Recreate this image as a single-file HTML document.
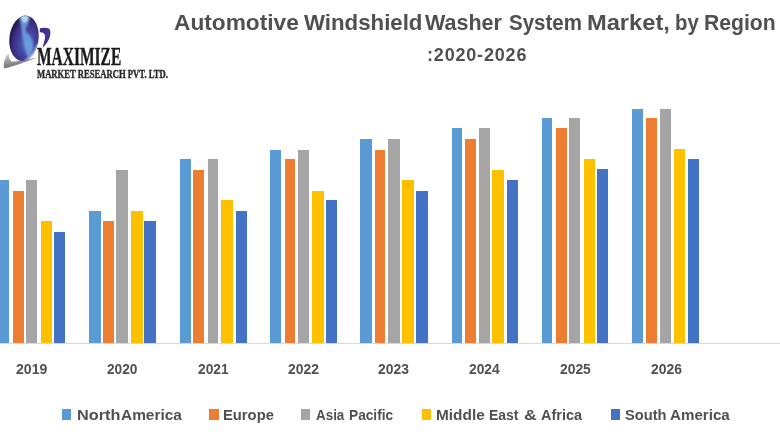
<!DOCTYPE html>
<html><head><meta charset="utf-8">
<style>
html,body{margin:0;padding:0;background:#fff;}
body{width:780px;height:440px;position:relative;overflow:hidden;font-family:"Liberation Sans",sans-serif;}
.b{position:absolute;width:11.3px;}
.axis{position:absolute;left:0;top:343px;width:780px;height:1px;background:#d9d9d9;}
.t1,.t2,.lg,.yl,.logo1,.logo2{position:absolute;white-space:nowrap;transform-origin:0 0;}
.yl{font-weight:bold;font-size:14.5px;color:#505050;line-height:18px;}
.t1{font-weight:bold;font-size:21.5px;color:#505050;line-height:26px;}
.t2{font-weight:bold;font-size:17.5px;color:#505050;line-height:20px;margin-top:0.8px;letter-spacing:0.8px;}
.lg{font-weight:bold;font-size:14.5px;color:#505050;line-height:20px;}
.sq{position:absolute;top:409.3px;width:9.3px;height:10.3px;}
.logo1{font-family:"Liberation Serif",serif;font-weight:bold;font-size:24.5px;color:#1a1a1a;line-height:26px;-webkit-text-stroke:0.35px #1a1a1a;}
.logo2{font-family:"Liberation Serif",serif;font-weight:bold;font-size:13px;color:#2a2a2a;line-height:14px;-webkit-text-stroke:0.45px #2a2a2a;}
</style></head><body>
<svg style="position:absolute;left:0;top:0;" width="60" height="75" viewBox="0 0 60 75">
  <defs>
    <radialGradient id="gg" cx="0.62" cy="0.6" r="0.6">
      <stop offset="0" stop-color="#4a78c6"/>
      <stop offset="0.45" stop-color="#4544a0"/>
      <stop offset="0.8" stop-color="#3b2c80"/>
      <stop offset="1" stop-color="#261a54"/>
    </radialGradient>
    <linearGradient id="sw" x1="0" y1="0" x2="0.3" y2="1">
      <stop offset="0" stop-color="#d4d4d4"/>
      <stop offset="1" stop-color="#6a6a6a"/>
    </linearGradient>
    <linearGradient id="pw" x1="0" y1="0" x2="1" y2="1">
      <stop offset="0" stop-color="#3a2a7a"/>
      <stop offset="0.5" stop-color="#48349a"/>
      <stop offset="1" stop-color="#30226a"/>
    </linearGradient>
    <filter id="bl" x="-0.5" y="-0.5" width="2" height="2"><feGaussianBlur stdDeviation="1.1"/></filter>
    <clipPath id="gc"><ellipse cx="24" cy="38.3" rx="14.6" ry="22.8" transform="rotate(7 24 38.3)"/></clipPath>
  </defs>
  <path d="M9 53 C 5 57, 3 63, 4 68.5 C 12 67, 25 62, 37.5 57.5 C 25 59.5, 15 62, 11.5 61.5 C 9 59.5, 8.3 56, 9 53 Z" fill="url(#sw)"/>
  <ellipse cx="24" cy="38.3" rx="14.6" ry="22.8" transform="rotate(7 24 38.3)" fill="url(#gg)"/>
  <g clip-path="url(#gc)">
    <g filter="url(#bl)">
      <path d="M20 16 C 23 14.5, 28 14.5, 30 17 C 29 21, 28 23, 27.5 26 C 25.5 28, 25 30, 27 33 C 31 36, 34 42, 33 49 C 32 53, 30 56, 28 58 C 26 53, 24 47, 23.5 41 C 22 36, 21.5 30, 21 25 C 20 22, 19 18, 20 16 Z" fill="#72a6e0" opacity="0.85"/>
      <path d="M20.5 16 C 23 15, 27 15, 29 17 C 28 20, 27 22, 25 23 C 23 22, 21 19, 20.5 16 Z" fill="#b6d8f4"/>
      <path d="M37 44 C 35 52, 30 58, 23 61 C 31 61.5, 37 56, 39 47 Z" fill="#c6cdf4"/>
    </g>
  </g>
  <path d="M39.8 28.3 C 43 27.6, 46.5 27.4, 49 28.4 C 51 30, 50.8 34.5, 49 39 C 47.6 42, 45.5 45, 42.5 48 C 43.6 43.5, 45 39.5, 45 37 C 45 35, 44.6 34, 43.8 33.4 C 42.6 32.6, 41.2 32.3, 39.8 32.3 Z" fill="url(#pw)"/>
</svg>
<div class="logo1" id="logo1" style="left:36.87px;top:44.20px;transform:scaleX(0.6318)">MAXIMIZE</div>
<div class="logo2" id="logo2" style="left:36.63px;top:67.40px;transform:scaleX(0.6631)">MARKET RESEARCH PVT. LTD.</div>
<div class="t1" id="w1" style="left:173.51px;top:10.10px;transform:scaleX(1.0553)">Automotive</div><div class="t1" id="w2" style="left:303.87px;top:10.10px;transform:scaleX(1.0349)">Windshield</div><div class="t1" id="w3" style="left:425.17px;top:10.10px;transform:scaleX(1.0012)">Washer</div><div class="t1" id="w4" style="left:508.99px;top:10.10px;transform:scaleX(0.9542)">System</div><div class="t1" id="w5" style="left:586.92px;top:10.10px;transform:scaleX(1.1003)">Market,</div><div class="t1" id="w6" style="left:674.83px;top:10.10px;transform:scaleX(0.9450)">by</div><div class="t1" id="w7" style="left:704.21px;top:10.10px;transform:scaleX(0.9842)">Region</div>
<div class="t2" id="t2" style="left:427.34px;top:44.00px;transform:scaleX(1.0277)">:2020-2026</div>
<div class="b" style="left:-2.30px;width:11.30px;top:180.20px;height:162.80px;background:#5B9BD5"></div><div class="b" style="left:13.00px;width:11.10px;top:190.70px;height:152.30px;background:#ED7D31"></div><div class="b" style="left:26.20px;width:10.80px;top:180.20px;height:162.80px;background:#A5A5A5"></div><div class="b" style="left:40.80px;width:11.30px;top:221.00px;height:122.00px;background:#FFC000"></div><div class="b" style="left:54.30px;width:10.80px;top:231.70px;height:111.30px;background:#4472C4"></div><div class="b" style="left:88.85px;width:12.05px;top:210.70px;height:132.30px;background:#5B9BD5"></div><div class="b" style="left:102.80px;width:11.00px;top:221.00px;height:122.00px;background:#ED7D31"></div><div class="b" style="left:116.25px;width:11.85px;top:169.70px;height:173.30px;background:#A5A5A5"></div><div class="b" style="left:130.70px;width:12.00px;top:210.70px;height:132.30px;background:#FFC000"></div><div class="b" style="left:144.30px;width:11.90px;top:221.00px;height:122.00px;background:#4472C4"></div><div class="b" style="left:179.80px;width:11.10px;top:159.00px;height:184.00px;background:#5B9BD5"></div><div class="b" style="left:193.30px;width:10.50px;top:169.50px;height:173.50px;background:#ED7D31"></div><div class="b" style="left:207.70px;width:10.80px;top:159.00px;height:184.00px;background:#A5A5A5"></div><div class="b" style="left:221.20px;width:11.50px;top:200.00px;height:143.00px;background:#FFC000"></div><div class="b" style="left:235.80px;width:10.80px;top:210.70px;height:132.30px;background:#4472C4"></div><div class="b" style="left:269.80px;width:11.10px;top:149.70px;height:193.30px;background:#5B9BD5"></div><div class="b" style="left:284.70px;width:10.60px;top:158.90px;height:184.10px;background:#ED7D31"></div><div class="b" style="left:297.90px;width:10.85px;top:149.80px;height:193.20px;background:#A5A5A5"></div><div class="b" style="left:312.10px;width:11.55px;top:190.80px;height:152.20px;background:#FFC000"></div><div class="b" style="left:325.80px;width:10.80px;top:199.90px;height:143.10px;background:#4472C4"></div><div class="b" style="left:360.00px;width:12.10px;top:138.90px;height:204.10px;background:#5B9BD5"></div><div class="b" style="left:374.70px;width:10.60px;top:149.70px;height:193.30px;background:#ED7D31"></div><div class="b" style="left:387.90px;width:11.80px;top:138.90px;height:204.10px;background:#A5A5A5"></div><div class="b" style="left:402.10px;width:11.70px;top:179.90px;height:163.10px;background:#FFC000"></div><div class="b" style="left:415.80px;width:11.80px;top:190.70px;height:152.30px;background:#4472C4"></div><div class="b" style="left:451.50px;width:10.60px;top:128.40px;height:214.60px;background:#5B9BD5"></div><div class="b" style="left:464.70px;width:10.90px;top:138.70px;height:204.30px;background:#ED7D31"></div><div class="b" style="left:478.80px;width:10.90px;top:128.40px;height:214.60px;background:#A5A5A5"></div><div class="b" style="left:492.30px;width:11.50px;top:169.60px;height:173.40px;background:#FFC000"></div><div class="b" style="left:507.00px;width:10.60px;top:179.90px;height:163.10px;background:#4472C4"></div><div class="b" style="left:541.70px;width:10.40px;top:118.00px;height:225.00px;background:#5B9BD5"></div><div class="b" style="left:556.00px;width:10.70px;top:128.20px;height:214.80px;background:#ED7D31"></div><div class="b" style="left:569.10px;width:10.90px;top:118.00px;height:225.00px;background:#A5A5A5"></div><div class="b" style="left:583.60px;width:11.50px;top:159.00px;height:184.00px;background:#FFC000"></div><div class="b" style="left:597.00px;width:11.10px;top:169.40px;height:173.60px;background:#4472C4"></div><div class="b" style="left:631.90px;width:11.60px;top:108.60px;height:234.40px;background:#5B9BD5"></div><div class="b" style="left:646.00px;width:10.70px;top:117.70px;height:225.30px;background:#ED7D31"></div><div class="b" style="left:659.60px;width:11.60px;top:108.60px;height:234.40px;background:#A5A5A5"></div><div class="b" style="left:673.60px;width:11.80px;top:149.40px;height:193.60px;background:#FFC000"></div><div class="b" style="left:687.50px;width:11.50px;top:158.90px;height:184.10px;background:#4472C4"></div>
<div class="axis"></div>
<div class="yl" id="y2019" style="left:16.40px;top:360.40px;transform:scaleX(0.9688)">2019</div><div class="yl" id="y2020" style="left:106.69px;top:360.40px;transform:scaleX(0.9442)">2020</div><div class="yl" id="y2021" style="left:197.75px;top:360.40px;transform:scaleX(0.9504)">2021</div><div class="yl" id="y2022" style="left:288.17px;top:360.40px;transform:scaleX(0.9588)">2022</div><div class="yl" id="y2023" style="left:378.27px;top:360.40px;transform:scaleX(0.9569)">2023</div><div class="yl" id="y2024" style="left:469.34px;top:360.40px;transform:scaleX(0.9505)">2024</div><div class="yl" id="y2025" style="left:560.23px;top:360.40px;transform:scaleX(0.9557)">2025</div><div class="yl" id="y2026" style="left:651.05px;top:360.40px;transform:scaleX(0.9580)">2026</div>
<div class="sq" style="left:62.2px;background:#5B9BD5"></div><div class="lg" id="l1a" style="left:76.90px;top:404.50px;transform:scaleX(1.1211)">North</div><div class="lg" id="l1b" style="left:120.94px;top:404.50px;transform:scaleX(1.0640)">America</div>
<div class="sq" style="left:209.4px;background:#ED7D31"></div><div class="lg" id="l2" style="left:223.48px;top:404.50px;transform:scaleX(1.0181)">Europe</div>
<div class="sq" style="left:300.7px;background:#A5A5A5"></div><div class="lg" id="l3a" style="left:315.62px;top:404.50px;transform:scaleX(0.9242)">Asia</div><div class="lg" id="l3b" style="left:348.68px;top:404.50px;transform:scaleX(0.9439)">Pacific</div>
<div class="sq" style="left:422.1px;background:#FFC000"></div><div class="lg" id="l4a" style="left:435.63px;top:404.50px;transform:scaleX(1.0608)">Middle</div><div class="lg" id="l4b" style="left:488.95px;top:404.50px;transform:scaleX(0.9604)">East</div><div class="lg" id="l4c" style="left:523.78px;top:404.50px;transform:scaleX(1.2222)">&amp;</div><div class="lg" id="l4d" style="left:540.90px;top:404.50px;transform:scaleX(0.9976)">Africa</div>
<div class="sq" style="left:610.5px;background:#4472C4"></div><div class="lg" id="l5a" style="left:624.66px;top:404.50px;transform:scaleX(1.0125)">South</div><div class="lg" id="l5b" style="left:669.80px;top:404.50px;transform:scaleX(1.0434)">America</div>
</body></html>
